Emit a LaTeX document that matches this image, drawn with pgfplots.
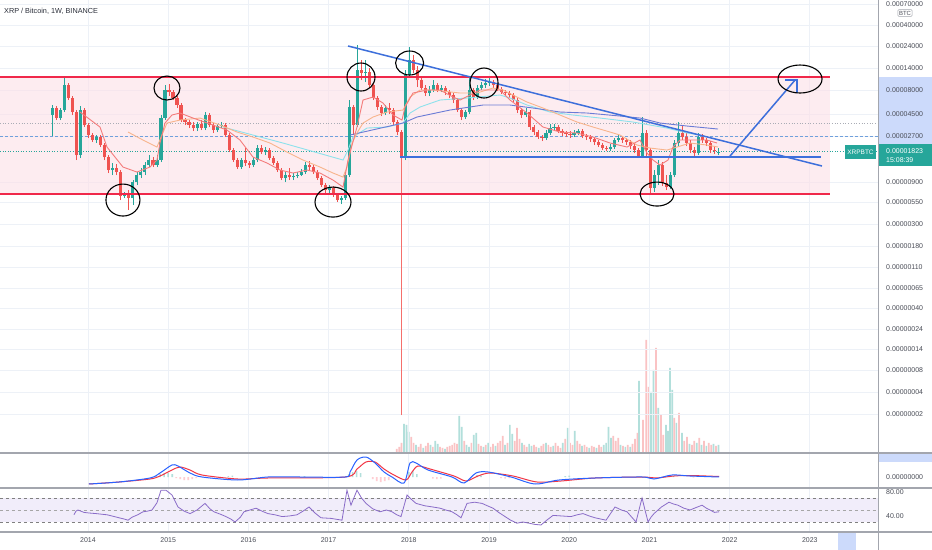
\documentclass[border=0pt]{standalone}
\usepackage{pgfplots}
\pgfplotsset{compat=1.18}
\usepackage{fontspec}
\setmainfont{Liberation Sans}
\errorstopmode

\definecolor{upc}{HTML}{26A69A}
\definecolor{dnc}{HTML}{EF5350}
\definecolor{volup}{HTML}{B2DFDB}
\definecolor{voldn}{HTML}{FAC3C4}
\definecolor{gridc}{HTML}{EDF1F7}
\definecolor{pinkc}{HTML}{FCE0E7}
\definecolor{redl}{HTML}{F0284A}
\definecolor{bluel}{HTML}{3D6FDB}
\definecolor{maR}{HTML}{F47C7C}
\definecolor{maO}{HTML}{F8B48C}
\definecolor{maC}{HTML}{8DE2EC}
\definecolor{maB}{HTML}{6A7BD6}
\definecolor{labc}{HTML}{4A4D57}
\definecolor{titc}{HTML}{2A2E39}
\definecolor{sepc}{HTML}{A3A6AE}
\definecolor{hlc}{HTML}{CCDAFB}
\definecolor{rsic}{HTML}{8A6CC8}
\definecolor{rsiband}{HTML}{F1EDFA}
\definecolor{macdb}{HTML}{2962FF}
\definecolor{macdr}{HTML}{F23645}
\definecolor{histup}{HTML}{B2DFDB}
\definecolor{histdn}{HTML}{FFCDD2}
\definecolor{plblue}{HTML}{6FA0DC}
\definecolor{plgray}{HTML}{A9ACB5}
\definecolor{glitch}{HTML}{F56F6C}

\begin{document}
\begin{tikzpicture}
\path[use as bounding box, fill=white] (0bp,0bp) rectangle (932bp,550bp);
\fill[hlc] (879bp,398bp) rectangle (932bp,473bp);
\fill[hlc] (879bp,88bp) rectangle (932bp,97bp);
\fill[hlc] (838bp,0bp) rectangle (856bp,18bp);

% volume overlay
\begin{axis}[scale only axis, anchor=south west, at={(0bp,97bp)}, width=878bp, height=453bp,
  xmin=2012.903, xmax=2023.850, ymin=0, ymax=453, hide axis]
\addplot[ybar, bar width=1.7bp, bar shift=0pt, fill=volup, draw=none] coordinates {
(2017.94,29) (2017.97,28) (2018.00,21) (2018.09,8) (2018.18,5) (2018.27,8) (2018.33,12) (2018.36,9)
(2018.45,4) (2018.63,37) (2018.66,26) (2018.72,8) (2018.75,6) (2018.81,18) (2018.84,20) (2018.93,6)
(2018.99,10) (2019.08,7) (2019.20,8) (2019.26,28) (2019.29,19) (2019.41,10) (2019.50,9) (2019.53,7)
(2019.62,5) (2019.71,10) (2019.80,7) (2019.92,10) (2019.98,25) (2020.07,22) (2020.16,7) (2020.25,5)
(2020.34,5) (2020.43,8) (2020.46,10) (2020.49,26) (2020.52,15) (2020.64,8) (2020.70,6) (2020.76,6)
(2020.870,72) (2021.020,61) (2021.050,83) (2021.110,45) (2021.207,28) (2021.232,22) (2021.257,85)
(2021.284,63) (2021.336,30) (2021.406,20) (2021.50,9) (2021.59,10) (2021.65,8) (2021.71,7) (2021.80,9) (2021.86,8)};
\addplot[ybar, bar width=1.7bp, bar shift=0pt, fill=voldn, draw=none] coordinates {
(2017.85,4) (2017.88,6) (2017.91,10) (2018.03,16) (2018.06,10) (2018.12,6) (2018.15,9) (2018.21,7)
(2018.24,10) (2018.30,6) (2018.39,6) (2018.42,5) (2018.48,6) (2018.51,7) (2018.54,8) (2018.57,10)
(2018.60,9) (2018.69,12) (2018.78,10) (2018.87,9) (2018.90,7) (2018.96,8) (2019.02,6) (2019.05,9)
(2019.11,10) (2019.14,12) (2019.17,17) (2019.23,10) (2019.32,12) (2019.35,25) (2019.38,14) (2019.44,8)
(2019.47,6) (2019.56,8) (2019.59,6) (2019.65,7) (2019.68,9) (2019.74,8) (2019.77,6) (2019.83,10)
(2019.86,7) (2019.89,5) (2019.95,14) (2020.01,10) (2020.04,8) (2020.10,12) (2020.13,9) (2020.19,8)
(2020.22,6) (2020.28,7) (2020.31,6) (2020.37,8) (2020.40,6) (2020.55,17) (2020.58,12) (2020.61,15)
(2020.67,7) (2020.73,8) (2020.79,9) (2020.82,14) (2020.85,20) (2020.920,33) (2020.960,113) (2020.990,66)
(2021.082,105) (2021.145,38) (2021.172,18) (2021.310,35) (2021.369,40) (2021.435,12) (2021.469,16)
(2021.53,8) (2021.56,12) (2021.62,15) (2021.68,12) (2021.74,10) (2021.77,8) (2021.83,7)};
\end{axis}

% main price pane (prices in satoshi = 1e-8 BTC)
\begin{axis}[scale only axis, anchor=south west, at={(0bp,97bp)}, width=878bp, height=453bp,
  xmin=2012.903, xmax=2023.850,
  ymode=log, ymin=1.1634, ymax=73630,
  unbounded coords=jump,
  axis line style={draw=none}, major tick length=0pt, minor tick length=0pt,
  tick label style={font=\fontsize{7}{8}\selectfont, text=labc},
  xtick={2014,2015,2016,2017,2018,2019,2020,2021,2022,2023}, xticklabels={},
  ytick={3.01,5.15,8.8,14.7,24,40.1,65.3,109,182,311,532,867,2665,4557,8182,14000,23955,40000,66800},
  yticklabels={0.00000002,0.00000004,0.00000008,0.00000014,0.00000024,0.00000040,0.00000065,0.00000110,0.00000180,0.00000300,0.00000550,0.00000900,0.00002700,0.00004500,0.00008000,0.00014000,0.00024000,0.00040000,0.00070000},
  xmajorgrids, ymajorgrids, grid style={gridc, line width=0.7bp},
  yticklabel pos=right, yticklabel style={anchor=west, inner sep=0pt, xshift=8bp}]
% range band
\addplot[fill=pinkc, fill opacity=0.6, draw=none] coordinates {(2012.903,646) (2023.252,646) (2023.252,11238) (2012.903,11238)} --cycle;
% price lines
\addplot[plgray, dotted, line width=0.7bp] coordinates {(2012.903,3656) (2023.85,3656)};
\addplot[plblue, dash pattern=on 3bp off 2bp, line width=0.8bp] coordinates {(2012.903,2661) (2023.85,2661)};
\addplot[upc, dotted, line width=0.6bp] coordinates {(2012.903,1823) (2023.85,1823)};
% up candles: wicks (low, high)
\addplot[upc, line width=0.8bp] coordinates {
(2013.56,2661)(2013.56,5673)(2013.56,nan)(2013.66,3933)(2013.66,5273)(2013.66,nan)
(2013.71,4782)(2013.71,10967)(2013.71,nan)(2013.91,1556)(2013.91,5536)(2013.91,nan)
(2014.11,2244)(2014.11,2727)(2014.11,nan)(2014.31,1027)(2014.31,1377)(2014.31,nan)
(2014.46,586)(2014.46,678)(2014.46,nan)(2014.56,494)(2014.56,909)(2014.56,nan)
(2014.61,805)(2014.61,1105)(2014.61,nan)(2014.66,955)(2014.66,1219)(2014.66,nan)
(2014.71,1027)(2014.71,1411)(2014.71,nan)(2014.76,1249)(2014.76,1674)(2014.76,nan)
(2014.86,1249)(2014.86,1674)(2014.86,nan)(2014.91,1411)(2014.91,4444)(2014.91,nan)
(2014.96,3933)(2014.96,9244)(2014.96,nan)(2015.36,3007)(2015.36,3746)(2015.36,nan)
(2015.46,3081)(2015.46,4782)(2015.46,nan)(2015.61,2934)(2015.61,3567)(2015.61,nan)
(2015.66,3235)(2015.66,3746)(2015.66,nan)(2015.91,1189)(2015.91,1556)(2015.91,nan)
(2016.06,1249)(2016.06,1594)(2016.06,nan)(2016.11,1411)(2016.11,2137)(2016.11,nan)
(2016.21,1674)(2016.21,2035)(2016.21,nan)(2016.46,866)(2016.46,1105)(2016.46,nan)
(2016.56,909)(2016.56,1079)(2016.56,nan)(2016.61,955)(2016.61,1105)(2016.61,nan)
(2016.66,1003)(2016.66,1189)(2016.66,nan)(2016.71,1053)(2016.71,1411)(2016.71,nan)
(2017.01,662)(2017.01,805)(2017.01,nan)(2017.16,506)(2017.16,615)(2017.16,nan)
(2017.21,558)(2017.21,1105)(2017.21,nan)(2017.26,978)(2017.26,6410)(2017.26,nan)
(2017.36,3315)(2017.36,24547)(2017.36,nan)(2017.46,9947)(2017.46,17019)(2017.46,nan)
(2017.71,4444)(2017.71,5673)(2017.71,nan)(2017.96,1482)(2017.96,13332)(2017.96,nan)
(2018.01,10967)(2018.01,23378)(2018.01,nan)(2018.26,7068)(2018.26,9021)(2018.26,nan)
(2018.31,7792)(2018.31,10444)(2018.31,nan)(2018.41,7792)(2018.41,9244)(2018.41,nan)
(2018.71,4031)(2018.71,5021)(2018.71,nan)(2018.76,4554)(2018.76,11238)(2018.76,nan)
(2018.86,6569)(2018.86,9244)(2018.86,nan)(2018.91,8182)(2018.91,9947)(2018.91,nan)
(2018.96,8592)(2018.96,10703)(2018.96,nan)(2019.01,9021)(2019.01,10967)(2019.01,nan)
(2019.46,4233)(2019.46,5273)(2019.46,nan)(2019.71,2414)(2019.71,3081)(2019.71,nan)
(2019.76,2727)(2019.76,3567)(2019.76,nan)(2019.81,3007)(2019.81,3567)(2019.81,nan)
(2020.06,2597)(2020.06,3081)(2020.06,nan)(2020.11,2727)(2020.11,3157)(2020.11,nan)
(2020.51,1846)(2020.51,2190)(2020.51,nan)(2020.56,1938)(2020.56,2535)(2020.56,nan)
(2020.61,2299)(2020.61,2727)(2020.61,nan)(2020.91,1556)(2020.91,4233)(2020.91,nan)
(2021.06,678)(2021.06,1161)(2021.06,nan)(2021.11,805)(2021.11,1482)(2021.11,nan)
(2021.26,730)(2021.26,1105)(2021.26,nan)(2021.31,978)(2021.31,2414)(2021.31,nan)
(2021.36,2085)(2021.36,3746)(2021.36,nan)(2021.61,1674)(2021.61,2864)(2021.61,nan)
(2021.86,1674)(2021.86,1986)};
% down candles: wicks (low, high)
\addplot[dnc, line width=0.8bp] coordinates {
(2013.61,3933)(2013.61,5536)(2013.61,nan)(2013.76,6410)(2013.76,9707)(2013.76,nan)
(2013.81,4444)(2013.81,7068)(2013.81,nan)(2013.86,1482)(2013.86,5021)(2013.86,nan)
(2013.96,3315)(2013.96,5273)(2013.96,nan)(2014.01,2535)(2014.01,3656)(2014.01,nan)
(2014.06,2299)(2014.06,2864)(2014.06,nan)(2014.16,2035)(2014.16,2727)(2014.16,nan)
(2014.21,1482)(2014.21,2244)(2014.21,nan)(2014.26,1079)(2014.26,1674)(2014.26,nan)
(2014.36,1027)(2014.36,1344)(2014.36,nan)(2014.41,558)(2014.41,1161)(2014.41,nan)
(2014.51,437)(2014.51,712)(2014.51,nan)(2014.81,1249)(2014.81,1594)(2014.81,nan)
(2015.01,7068)(2015.01,9473)(2015.01,nan)(2015.06,6410)(2015.06,8182)(2015.06,nan)
(2015.11,5273)(2015.11,7068)(2015.11,nan)(2015.16,3746)(2015.16,5958)(2015.16,nan)
(2015.21,3481)(2015.21,4130)(2015.21,nan)(2015.26,3235)(2015.26,3933)(2015.26,nan)
(2015.31,3007)(2015.31,3746)(2015.31,nan)(2015.41,3081)(2015.41,3933)(2015.41,nan)
(2015.51,3315)(2015.51,4667)(2015.51,nan)(2015.56,2864)(2015.56,3656)(2015.56,nan)
(2015.71,2597)(2015.71,3656)(2015.71,nan)(2015.76,1801)(2015.76,2864)(2015.76,nan)
(2015.81,1411)(2015.81,1986)(2015.81,nan)(2015.86,1189)(2015.86,1556)(2015.86,nan)
(2015.96,1280)(2015.96,1986)(2015.96,nan)(2016.01,1219)(2016.01,1446)(2016.01,nan)
(2016.16,1715)(2016.16,2137)(2016.16,nan)(2016.26,1482)(2016.26,1986)(2016.26,nan)
(2016.31,1311)(2016.31,1634)(2016.31,nan)(2016.36,1105)(2016.36,1446)(2016.36,nan)
(2016.41,909)(2016.41,1219)(2016.41,nan)(2016.51,909)(2016.51,1219)(2016.51,nan)
(2016.76,1161)(2016.76,1446)(2016.76,nan)(2016.81,1053)(2016.81,1311)(2016.81,nan)
(2016.86,909)(2016.86,1161)(2016.86,nan)(2016.91,766)(2016.91,1003)(2016.91,nan)
(2016.96,662)(2016.96,845)(2016.96,nan)(2017.06,600)(2017.06,785)(2017.06,nan)
(2017.11,531)(2017.11,662)(2017.11,nan)(2017.31,2727)(2017.31,5673)(2017.31,nan)
(2017.41,10444)(2017.41,17019)(2017.41,nan)(2017.51,8592)(2017.51,14000)(2017.51,nan)
(2017.56,6410)(2017.56,9707)(2017.56,nan)(2017.61,5021)(2017.61,7068)(2017.61,nan)
(2017.66,4337)(2017.66,5673)(2017.66,nan)(2017.76,4554)(2017.76,5958)(2017.76,nan)
(2017.81,3481)(2017.81,5273)(2017.81,nan)(2017.86,2727)(2017.86,3933)(2017.86,nan)
(2017.91,1556)(2017.91,3081)(2017.91,nan)(2018.06,12391)(2018.06,19229)(2018.06,nan)
(2018.11,8804)(2018.11,14700)(2018.11,nan)(2018.16,8182)(2018.16,11516)(2018.16,nan)
(2018.21,7068)(2018.21,9244)(2018.21,nan)(2018.36,7792)(2018.36,9707)(2018.36,nan)
(2018.46,7242)(2018.46,9021)(2018.46,nan)(2018.51,6731)(2018.51,8182)(2018.51,nan)
(2018.56,5958)(2018.56,7605)(2018.56,nan)(2018.61,4782)(2018.61,6731)(2018.61,nan)
(2018.66,3933)(2018.66,5273)(2018.66,nan)(2018.81,6410)(2018.81,8592)(2018.81,nan)
(2019.06,8592)(2019.06,10444)(2019.06,nan)(2019.11,7985)(2019.11,9707)(2019.11,nan)
(2019.16,7421)(2019.16,8804)(2019.16,nan)(2019.21,7068)(2019.21,8182)(2019.21,nan)
(2019.26,6731)(2019.26,7985)(2019.26,nan)(2019.31,6105)(2019.31,7605)(2019.31,nan)
(2019.36,4667)(2019.36,6731)(2019.36,nan)(2019.41,4130)(2019.41,5273)(2019.41,nan)
(2019.51,3081)(2019.51,5021)(2019.51,nan)(2019.56,2727)(2019.56,3481)(2019.56,nan)
(2019.61,2474)(2019.61,3081)(2019.61,nan)(2019.66,2356)(2019.66,2727)(2019.66,nan)
(2019.86,2864)(2019.86,3481)(2019.86,nan)(2019.91,2661)(2019.91,3157)(2019.91,nan)
(2019.96,2597)(2019.96,3007)(2019.96,nan)(2020.01,2535)(2020.01,3007)(2020.01,nan)
(2020.16,2535)(2020.16,3157)(2020.16,nan)(2020.21,2414)(2020.21,2795)(2020.21,nan)
(2020.26,2299)(2020.26,2727)(2020.26,nan)(2020.31,2137)(2020.31,2597)(2020.31,nan)
(2020.36,2035)(2020.36,2414)(2020.36,nan)(2020.41,1891)(2020.41,2244)(2020.41,nan)
(2020.46,1846)(2020.46,2085)(2020.46,nan)(2020.66,2244)(2020.66,2661)(2020.66,nan)
(2020.71,2137)(2020.71,2535)(2020.71,nan)(2020.76,1938)(2020.76,2414)(2020.76,nan)
(2020.81,1758)(2020.81,2244)(2020.81,nan)(2020.86,1556)(2020.86,1986)(2020.86,nan)
(2020.96,1556)(2020.96,3081)(2020.96,nan)(2021.01,662)(2021.01,1986)(2021.01,nan)
(2021.16,785)(2021.16,1411)(2021.16,nan)(2021.21,712)(2021.21,1027)(2021.21,nan)
(2021.41,2414)(2021.41,3481)(2021.41,nan)(2021.46,2085)(2021.46,2864)(2021.46,nan)
(2021.51,1758)(2021.51,2414)(2021.51,nan)(2021.56,1634)(2021.56,2035)(2021.56,nan)
(2021.66,2244)(2021.66,2795)(2021.66,nan)(2021.71,2085)(2021.71,2535)(2021.71,nan)
(2021.76,1758)(2021.76,2356)(2021.76,nan)(2021.81,1715)(2021.81,2035)};
% the bad-tick low wick of the December 2017 candle
\addplot[glitch, line width=1.1bp] coordinates {(2017.91,2.94) (2017.91,1556)};
% up candles: bodies (open, close)
\addplot[upc, line width=3.1bp] coordinates {
(2013.56,4444)(2013.56,5273)(2013.56,nan)(2013.66,4130)(2013.66,5021)(2013.66,nan)
(2013.71,5021)(2013.71,9244)(2013.71,nan)(2013.91,1674)(2013.91,5021)(2013.91,nan)
(2014.11,2414)(2014.11,2597)(2014.11,nan)(2014.31,1161)(2014.31,1219)(2014.31,nan)
(2014.46,615)(2014.46,646)(2014.46,nan)(2014.56,586)(2014.56,866)(2014.56,nan)
(2014.61,866)(2014.61,1027)(2014.61,nan)(2014.66,1027)(2014.66,1105)(2014.66,nan)
(2014.71,1105)(2014.71,1311)(2014.71,nan)(2014.76,1311)(2014.76,1482)(2014.76,nan)
(2014.86,1311)(2014.86,1482)(2014.86,nan)(2014.91,1482)(2014.91,4130)(2014.91,nan)
(2014.96,4130)(2014.96,8182)(2014.96,nan)(2015.36,3235)(2015.36,3567)(2015.36,nan)
(2015.46,3235)(2015.46,4444)(2015.46,nan)(2015.61,3081)(2015.61,3397)(2015.61,nan)
(2015.66,3397)(2015.66,3481)(2015.66,nan)(2015.91,1249)(2015.91,1482)(2015.91,nan)
(2016.06,1311)(2016.06,1482)(2016.06,nan)(2016.11,1482)(2016.11,1986)(2016.11,nan)
(2016.21,1801)(2016.21,1891)(2016.21,nan)(2016.46,955)(2016.46,1027)(2016.46,nan)
(2016.56,978)(2016.56,1003)(2016.56,nan)(2016.61,1003)(2016.61,1027)(2016.61,nan)
(2016.66,1027)(2016.66,1105)(2016.66,nan)(2016.71,1105)(2016.71,1311)(2016.71,nan)
(2017.01,712)(2017.01,748)(2017.01,nan)(2017.16,558)(2017.16,586)(2017.16,nan)
(2017.21,586)(2017.21,1027)(2017.21,nan)(2017.26,1027)(2017.26,5403)(2017.26,nan)
(2017.36,3481)(2017.36,13332)(2017.36,nan)(2017.46,12391)(2017.46,12697)(2017.46,nan)
(2017.71,4667)(2017.71,5273)(2017.71,nan)(2017.96,1556)(2017.96,11800)(2017.96,nan)
(2018.01,11800)(2018.01,17019)(2018.01,nan)(2018.26,7605)(2018.26,8182)(2018.26,nan)
(2018.31,8182)(2018.31,9244)(2018.31,nan)(2018.41,8182)(2018.41,8592)(2018.41,nan)
(2018.71,4233)(2018.71,4782)(2018.71,nan)(2018.76,4782)(2018.76,8182)(2018.76,nan)
(2018.86,6897)(2018.86,8592)(2018.86,nan)(2018.91,8592)(2018.91,9244)(2018.91,nan)
(2018.96,9244)(2018.96,9707)(2018.96,nan)(2019.01,9707)(2019.01,9947)(2019.01,nan)
(2019.46,4444)(2019.46,4782)(2019.46,nan)(2019.71,2535)(2019.71,2864)(2019.71,nan)
(2019.76,2864)(2019.76,3235)(2019.76,nan)(2019.81,3235)(2019.81,3315)(2019.81,nan)
(2020.06,2727)(2020.06,2864)(2020.06,nan)(2020.11,2864)(2020.11,3007)(2020.11,nan)
(2020.51,1938)(2020.51,2035)(2020.51,nan)(2020.56,2035)(2020.56,2414)(2020.56,nan)
(2020.61,2414)(2020.61,2535)(2020.61,nan)(2020.91,1634)(2020.91,2864)(2020.91,nan)
(2021.06,748)(2021.06,1027)(2021.06,nan)(2021.11,1027)(2021.11,1311)(2021.11,nan)
(2021.26,766)(2021.26,1027)(2021.26,nan)(2021.31,1027)(2021.31,2244)(2021.31,nan)
(2021.36,2244)(2021.36,2864)(2021.36,nan)(2021.61,1758)(2021.61,2597)(2021.61,nan)
(2021.86,1758)(2021.86,1823)};
% down candles: bodies (close, open)
\addplot[dnc, line width=3.1bp] coordinates {
(2013.61,4130)(2013.61,5273)(2013.61,nan)(2013.76,6731)(2013.76,9244)(2013.76,nan)
(2013.81,4782)(2013.81,6731)(2013.81,nan)(2013.86,1674)(2013.86,4782)(2013.86,nan)
(2013.96,3481)(2013.96,5021)(2013.96,nan)(2014.01,2727)(2014.01,3481)(2014.01,nan)
(2014.06,2414)(2014.06,2727)(2014.06,nan)(2014.16,2137)(2014.16,2597)(2014.16,nan)
(2014.21,1594)(2014.21,2137)(2014.21,nan)(2014.26,1161)(2014.26,1594)(2014.26,nan)
(2014.36,1105)(2014.36,1219)(2014.36,nan)(2014.41,615)(2014.41,1105)(2014.41,nan)
(2014.51,586)(2014.51,646)(2014.51,nan)(2014.81,1311)(2014.81,1482)(2014.81,nan)
(2015.01,7792)(2015.01,8182)(2015.01,nan)(2015.06,6731)(2015.06,7792)(2015.06,nan)
(2015.11,5673)(2015.11,6731)(2015.11,nan)(2015.16,3933)(2015.16,5673)(2015.16,nan)
(2015.21,3746)(2015.21,3933)(2015.21,nan)(2015.26,3481)(2015.26,3746)(2015.26,nan)
(2015.31,3235)(2015.31,3481)(2015.31,nan)(2015.41,3235)(2015.41,3567)(2015.41,nan)
(2015.51,3481)(2015.51,4444)(2015.51,nan)(2015.56,3081)(2015.56,3481)(2015.56,nan)
(2015.71,2727)(2015.71,3481)(2015.71,nan)(2015.76,1891)(2015.76,2727)(2015.76,nan)
(2015.81,1482)(2015.81,1891)(2015.81,nan)(2015.86,1249)(2015.86,1482)(2015.86,nan)
(2015.96,1377)(2015.96,1482)(2015.96,nan)(2016.01,1311)(2016.01,1377)(2016.01,nan)
(2016.16,1801)(2016.16,1986)(2016.16,nan)(2016.26,1556)(2016.26,1891)(2016.26,nan)
(2016.31,1377)(2016.31,1556)(2016.31,nan)(2016.36,1161)(2016.36,1377)(2016.36,nan)
(2016.41,955)(2016.41,1161)(2016.41,nan)(2016.51,978)(2016.51,1027)(2016.51,nan)
(2016.76,1249)(2016.76,1311)(2016.76,nan)(2016.81,1105)(2016.81,1249)(2016.81,nan)
(2016.86,955)(2016.86,1105)(2016.86,nan)(2016.91,805)(2016.91,955)(2016.91,nan)
(2016.96,712)(2016.96,805)(2016.96,nan)(2017.06,630)(2017.06,748)(2017.06,nan)
(2017.11,558)(2017.11,630)(2017.11,nan)(2017.31,3481)(2017.31,5403)(2017.31,nan)
(2017.41,12391)(2017.41,13332)(2017.41,nan)(2017.51,9244)(2017.51,12697)(2017.51,nan)
(2017.56,6731)(2017.56,9244)(2017.56,nan)(2017.61,5403)(2017.61,6731)(2017.61,nan)
(2017.66,4667)(2017.66,5403)(2017.66,nan)(2017.76,5021)(2017.76,5273)(2017.76,nan)
(2017.81,3746)(2017.81,5021)(2017.81,nan)(2017.86,2934)(2017.86,3746)(2017.86,nan)
(2017.91,1556)(2017.91,2934)(2017.91,nan)(2018.06,13332)(2018.06,17019)(2018.06,nan)
(2018.11,10444)(2018.11,13332)(2018.11,nan)(2018.16,8592)(2018.16,10444)(2018.16,nan)
(2018.21,7605)(2018.21,8592)(2018.21,nan)(2018.36,8182)(2018.36,9244)(2018.36,nan)
(2018.46,7792)(2018.46,8592)(2018.46,nan)(2018.51,7242)(2018.51,7792)(2018.51,nan)
(2018.56,6410)(2018.56,7242)(2018.56,nan)(2018.61,5021)(2018.61,6410)(2018.61,nan)
(2018.66,4233)(2018.66,5021)(2018.66,nan)(2018.81,6897)(2018.81,8182)(2018.81,nan)
(2019.06,9244)(2019.06,9947)(2019.06,nan)(2019.11,8385)(2019.11,9244)(2019.11,nan)
(2019.16,7792)(2019.16,8385)(2019.16,nan)(2019.21,7605)(2019.21,7792)(2019.21,nan)
(2019.26,7242)(2019.26,7605)(2019.26,nan)(2019.31,6410)(2019.31,7242)(2019.31,nan)
(2019.36,5021)(2019.36,6410)(2019.36,nan)(2019.41,4444)(2019.41,5021)(2019.41,nan)
(2019.51,3315)(2019.51,4782)(2019.51,nan)(2019.56,2934)(2019.56,3315)(2019.56,nan)
(2019.61,2597)(2019.61,2934)(2019.61,nan)(2019.66,2535)(2019.66,2597)(2019.66,nan)
(2019.86,3007)(2019.86,3315)(2019.86,nan)(2019.91,2864)(2019.91,3007)(2019.91,nan)
(2019.96,2795)(2019.96,2864)(2019.96,nan)(2020.01,2727)(2020.01,2795)(2020.01,nan)
(2020.16,2661)(2020.16,3007)(2020.16,nan)(2020.21,2597)(2020.21,2661)(2020.21,nan)
(2020.26,2474)(2020.26,2597)(2020.26,nan)(2020.31,2299)(2020.31,2474)(2020.31,nan)
(2020.36,2137)(2020.36,2299)(2020.36,nan)(2020.41,1986)(2020.41,2137)(2020.41,nan)
(2020.46,1938)(2020.46,1986)(2020.46,nan)(2020.66,2414)(2020.66,2535)(2020.66,nan)
(2020.71,2299)(2020.71,2414)(2020.71,nan)(2020.76,2085)(2020.76,2299)(2020.76,nan)
(2020.81,1891)(2020.81,2085)(2020.81,nan)(2020.86,1634)(2020.86,1891)(2020.86,nan)
(2020.96,1891)(2020.96,2864)(2020.96,nan)(2021.01,748)(2021.01,1891)(2021.01,nan)
(2021.16,845)(2021.16,1311)(2021.16,nan)(2021.21,766)(2021.21,845)(2021.21,nan)
(2021.41,2597)(2021.41,2864)(2021.41,nan)(2021.46,2244)(2021.46,2597)(2021.46,nan)
(2021.51,1891)(2021.51,2244)(2021.51,nan)(2021.56,1758)(2021.56,1891)(2021.56,nan)
(2021.66,2414)(2021.66,2597)(2021.66,nan)(2021.71,2244)(2021.71,2414)(2021.71,nan)
(2021.76,1891)(2021.76,2244)(2021.76,nan)(2021.81,1846)(2021.81,1891)};
% moving averages
\addplot[maC, line width=0.9bp] coordinates {(2015.683,3315) (2016.431,2244) (2017.180,1482) (2017.242,1891) (2017.304,2597) (2017.479,3235) (2017.728,3315) (2017.928,3656) (2018.015,4667) (2018.140,5403) (2018.389,6410) (2018.726,6731) (2019.137,7242) (2019.262,6731) (2019.474,5673) (2019.761,4782) (2020.047,4444) (2020.384,4130) (2020.795,3746) (2021.219,3235) (2021.469,2864) (2021.631,2727)};
\addplot[maB, line width=0.9bp] coordinates {(2017.267,2727) (2017.928,3656) (2018.102,4233) (2018.514,5021) (2018.925,5673) (2019.262,5673) (2019.549,5273) (2019.885,4782) (2020.222,4667) (2020.633,4337) (2020.883,4130) (2021.132,3656) (2021.469,3397) (2021.855,3157)};
\addplot[maO, line width=0.9bp] coordinates {(2014.499,2934) (2014.686,2414) (2014.860,2035) (2014.985,3656) (2015.147,3933) (2015.397,4130) (2015.646,3481) (2015.858,2934) (2016.057,2597) (2016.269,2244) (2016.481,1801) (2016.681,1482) (2016.893,1249) (2017.055,1079) (2017.180,978) (2017.229,1249) (2017.292,2244) (2017.354,2864) (2017.429,3656) (2017.554,4233) (2017.728,4782) (2017.928,5021) (2018.015,6897) (2018.140,8182) (2018.302,8182) (2018.639,7605) (2018.850,7605) (2019.050,8592) (2019.175,8182) (2019.299,7242) (2019.474,6105) (2019.673,5273) (2019.885,4444) (2020.097,3746) (2020.297,3315) (2020.509,2934) (2020.633,2727) (2020.845,2137) (2021.007,1986) (2021.219,1891) (2021.344,2035) (2021.506,2244) (2021.718,2137) (2021.855,2035)};
\addplot[maR, line width=0.9bp] coordinates {(2013.900,4782) (2014.150,3315) (2014.237,2035) (2014.436,1249) (2014.611,1105) (2014.773,1249) (2014.860,1482) (2014.898,2244) (2014.960,3656) (2015.047,4444) (2015.147,4667) (2015.309,4130) (2015.559,3481) (2015.733,3081) (2015.895,2414) (2016.057,1594) (2016.232,1377) (2016.394,1161) (2016.556,1079) (2016.731,1161) (2016.893,1079) (2017.055,909) (2017.180,766) (2017.242,1482) (2017.354,3315) (2017.429,6410) (2017.554,6897) (2017.678,5958) (2017.803,4444) (2017.915,3933) (2017.953,5403) (2018.052,7605) (2018.227,8182) (2018.389,8182) (2018.551,6897) (2018.639,6410) (2018.888,8182) (2019.137,8182) (2019.262,6410) (2019.474,4667) (2019.673,3315) (2019.885,2934) (2020.097,2864) (2020.297,2597) (2020.509,2244) (2020.721,2035) (2020.883,2414) (2020.970,1758) (2021.045,1482) (2021.132,1311) (2021.232,1482) (2021.294,2035) (2021.381,2414) (2021.544,2414) (2021.718,2414) (2021.843,2244)};
% drawn range lines
\addplot[redl, line width=2bp] coordinates {(2012.903,11238) (2023.252,11238)};
\addplot[redl, line width=2bp] coordinates {(2012.903,646) (2023.252,646)};
% blue trend lines and arrow
\addplot[bluel, line width=1.5bp] coordinates {(2017.242,23955) (2023.152,1280)};
\addplot[bluel, line width=1.5bp] coordinates {(2017.890,1594) (2023.140,1594)};
\addplot[bluel, line width=1.5bp] coordinates {(2022.005,1634) (2022.816,10444)};
\addplot[bluel, line width=1.5bp] coordinates {(2022.691,10444) (2022.840,10444) (2022.840,7605)};
% anchor points of the hand-drawn circles
\coordinate (e1) at (axis cs:2014.436,558);
\coordinate (e2) at (axis cs:2014.985,8592);
\coordinate (e3) at (axis cs:2017.404,11238);
\coordinate (e4) at (axis cs:2017.055,531);
\coordinate (e5) at (axis cs:2018.010,15818);
\coordinate (e6) at (axis cs:2018.938,9707);
\coordinate (e7) at (axis cs:2021.095,646);
\coordinate (e8) at (axis cs:2022.878,10703);
\end{axis}

% MACD pane
\begin{axis}[scale only axis, anchor=south west, at={(0bp,62bp)}, width=878bp, height=35bp,
  xmin=2012.903, xmax=2023.850, ymin=-11, ymax=24,
  axis line style={draw=none}, major tick length=0pt,
  tick label style={font=\fontsize{7}{8}\selectfont, text=labc},
  xtick={2014,2015,2016,2017,2018,2019,2020,2021,2022,2023}, xticklabels={},
  xmajorgrids, grid style={gridc, line width=0.7bp},
  ytick={0}, yticklabels={0.00000000},
  yticklabel pos=right, yticklabel style={anchor=west, inner sep=0pt, xshift=8bp}]
\addplot[ybar, bar width=1.6bp, bar shift=0pt, fill=histup, draw=none] coordinates {
(2014.85,1.5) (2014.90,3) (2014.95,4) (2015.00,4) (2015.05,3) (2015.75,1) (2015.80,1.5) (2016.70,1)
(2017.25,3) (2017.30,5) (2017.35,6) (2017.40,4) (2018.00,5) (2018.05,6) (2018.10,3) (2018.85,2)
(2018.90,1.5) (2019.95,1) (2020.00,1.5) (2021.25,1.5) (2021.30,1)};
\addplot[ybar, bar width=1.6bp, bar shift=0pt, fill=histdn, draw=none] coordinates {
(2015.10,-1) (2015.15,-2) (2015.20,-3) (2015.25,-3) (2015.30,-2) (2015.35,-1) (2017.55,-2)
(2017.60,-4) (2017.65,-5) (2017.70,-4) (2017.75,-3) (2018.30,-1.5) (2018.35,-2) (2018.40,-1.5)
(2019.15,-1) (2019.20,-1.5) (2019.25,-1) (2021.05,-1) (2021.55,-0.5)};
\addplot[macdr, line width=1bp, smooth] coordinates {(2014.012,-7) (2014.387,-5) (2014.773,-2) (2014.898,1) (2015.047,7) (2015.147,10) (2015.272,7) (2015.421,2) (2015.870,-2) (2016.244,-1) (2017.205,0) (2017.354,8) (2017.466,15) (2017.579,15) (2017.691,8) (2017.815,2) (2017.965,-3) (2018.040,5) (2018.115,11) (2018.265,8) (2018.564,1) (2018.714,-4) (2018.863,1) (2019.013,4) (2019.299,1) (2019.599,-5) (2019.898,-4) (2020.322,-1) (2020.908,0) (2021.082,-1) (2021.307,1) (2021.506,1.5) (2021.868,0.5)};
\addplot[macdb, line width=1bp, smooth] coordinates {(2014.012,-7) (2014.387,-5) (2014.773,-1) (2014.898,4) (2015.047,12) (2015.122,11) (2015.272,4) (2015.421,0) (2015.870,-3) (2016.244,0) (2016.643,0) (2017.205,0) (2017.267,5) (2017.354,17) (2017.466,20) (2017.579,14) (2017.691,5) (2017.791,0) (2017.940,-6) (2018.015,14) (2018.090,14) (2018.240,7) (2018.539,0) (2018.689,-6) (2018.838,4) (2018.988,5) (2019.274,0) (2019.574,-7) (2019.873,-3) (2020.322,-1) (2020.908,0) (2021.057,-2) (2021.282,2) (2021.506,1) (2021.868,0)};
\end{axis}

% RSI pane
\begin{axis}[scale only axis, anchor=south west, at={(0bp,18bp)}, width=878bp, height=43bp,
  xmin=2012.903, xmax=2023.850, ymin=13.3, ymax=85,
  axis line style={draw=none}, major tick length=0pt,
  tick label style={font=\fontsize{7}{8}\selectfont, text=labc},
  xtick={2014,2015,2016,2017,2018,2019,2020,2021,2022,2023},
  xticklabels={2014,2015,2016,2017,2018,2019,2020,2021,2022,2023},
  xticklabel style={anchor=north, inner sep=0pt, yshift=-5.5bp},
  xmajorgrids, grid style={gridc, line width=0.7bp},
  ytick={40,80}, yticklabels={40.00,80.00},
  yticklabel pos=right, yticklabel style={anchor=west, inner sep=0pt, xshift=8bp}]
\addplot[fill=rsiband, draw=none] coordinates {(2012.903,30) (2023.85,30) (2023.85,70) (2012.903,70)} --cycle;
\addplot[gray, dashed, line width=0.5bp] coordinates {(2012.903,70) (2023.85,70)};
\addplot[gray!70, dashed, line width=0.5bp] coordinates {(2012.903,50) (2023.85,50)};
\addplot[gray, dashed, line width=0.5bp] coordinates {(2012.903,30) (2023.85,30)};
\addplot[rsic, line width=0.8bp] coordinates {(2013.825,42) (2013.85,48) (2013.875,50) (2013.95,46) (2014.012,45) (2014.10,44) (2014.237,42) (2014.30,40) (2014.387,37) (2014.45,35) (2014.499,33) (2014.55,38) (2014.62,42) (2014.686,47) (2014.74,48) (2014.798,50) (2014.86,62) (2014.910,83) (2014.973,83) (2015.047,75) (2015.122,55) (2015.20,48) (2015.272,44) (2015.36,50) (2015.459,61) (2015.52,52) (2015.571,47) (2015.65,43) (2015.721,39) (2015.78,35) (2015.833,30) (2015.90,38) (2015.945,47) (2016.02,50) (2016.095,53) (2016.17,48) (2016.244,44) (2016.33,42) (2016.419,39) (2016.51,40) (2016.606,42) (2016.68,48) (2016.756,55) (2016.83,45) (2016.905,37) (2017.03,36) (2017.167,33) (2017.229,83) (2017.279,58) (2017.354,83) (2017.41,70) (2017.466,61) (2017.55,52) (2017.641,47) (2017.72,50) (2017.791,47) (2017.85,42) (2017.903,39) (2017.978,75) (2018.03,68) (2018.090,61) (2018.20,57) (2018.30,55) (2018.389,53) (2018.46,50) (2018.539,47) (2018.60,42) (2018.651,37) (2018.726,61) (2018.82,63) (2018.913,61) (2018.98,57) (2019.050,53) (2019.12,46) (2019.200,39) (2019.27,33) (2019.349,28) (2019.42,30) (2019.499,28) (2019.57,26) (2019.648,25) (2019.72,33) (2019.798,41) (2019.91,40) (2020.022,39) (2020.10,42) (2020.172,44) (2020.25,40) (2020.322,37) (2020.39,35) (2020.459,33) (2020.52,45) (2020.571,55) (2020.65,50) (2020.721,47) (2020.78,38) (2020.833,30) (2020.87,50) (2020.908,70) (2020.945,50) (2020.983,30) (2021.02,38) (2021.057,44) (2021.15,55) (2021.244,63) (2021.30,60) (2021.356,58) (2021.43,53) (2021.506,50) (2021.58,54) (2021.656,58) (2021.71,53) (2021.756,50) (2021.81,46) (2021.868,47)};
\end{axis}

% hand-drawn circles
\begin{scope}[black, line width=1.1bp]
\draw (e1) ellipse [x radius=17bp, y radius=16bp];
\draw (e2) ellipse [x radius=13bp, y radius=12bp];
\draw (e3) ellipse [x radius=14bp, y radius=14bp];
\draw (e4) ellipse [x radius=18bp, y radius=15bp];
\draw (e5) ellipse [x radius=14bp, y radius=12bp];
\draw (e6) ellipse [x radius=14bp, y radius=15bp];
\draw (e7) ellipse [x radius=17bp, y radius=12bp];
\draw (e8) ellipse [x radius=22bp, y radius=14bp];
\end{scope}

% separators
\draw[sepc, line width=1.2bp] (0bp,97bp) -- (932bp,97bp);
\draw[sepc, line width=1.2bp] (0bp,62bp) -- (932bp,62bp);
\draw[sepc, line width=1.2bp] (0bp,18bp) -- (932bp,18bp);
\draw[sepc, line width=0.8bp] (878bp,0bp) -- (878bp,550bp);

% title and tags
\node[anchor=west, inner sep=0pt, font=\fontsize{7.3}{8}\selectfont, text=titc] at (4bp,539bp) {XRP / Bitcoin, 1W, BINANCE};
\node[draw=sepc, line width=0.4bp, inner sep=1.2bp, rounded corners=1bp, font=\fontsize{6}{7}\selectfont, text=labc, fill=white] at (905bp,537bp) {BTC};
\fill[upc] (845bp,391bp) rectangle (876bp,405bp);
\node[font=\fontsize{6.5}{7}\selectfont, text=white, inner sep=0pt] at (860.5bp,398bp) {XRPBTC};
\fill[upc] (879bp,384bp) rectangle (932bp,406bp);
\node[anchor=west, font=\fontsize{7}{8}\selectfont, text=white, inner sep=0pt] at (886bp,399bp) {0.00001823};
\node[anchor=west, font=\fontsize{7}{8}\selectfont, text=white, inner sep=0pt] at (886bp,390bp) {15:08:39};
\end{tikzpicture}
\end{document}
